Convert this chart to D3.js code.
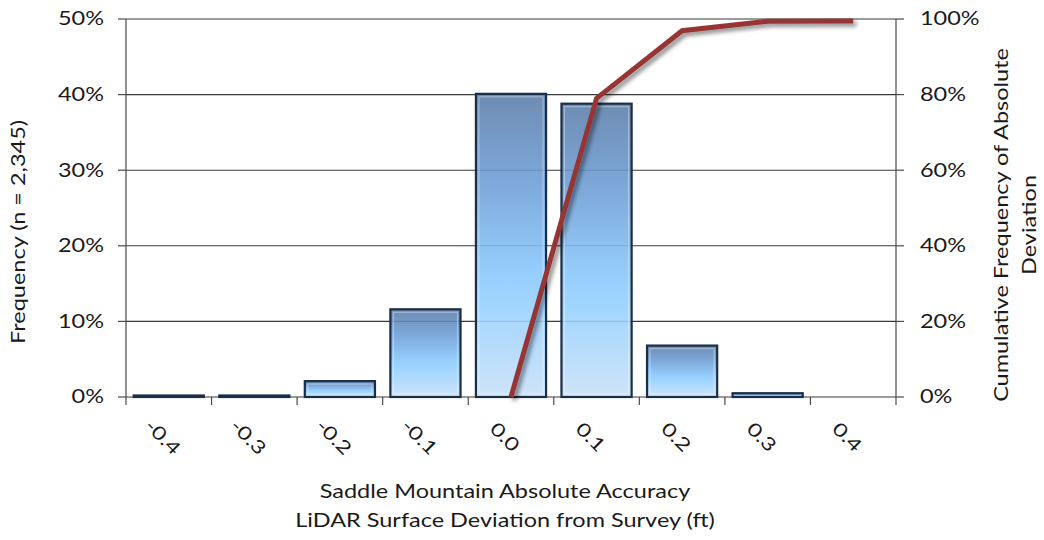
<!DOCTYPE html>
<html>
<head>
<meta charset="utf-8">
<script src="https://cdn.jsdelivr.net/npm/d3@7"></script>
<style>
  html, body { margin: 0; padding: 0; background: #fff; }
  svg { display: block; font-family: Lato, "Open Sans", sans-serif; }
</style>
</head>
<body>
<svg id="chart" width="1044" height="540"></svg>
<script>
// Deviation bins (ft) and share of survey points in each bin (%)
const categories = ["-0.4", "-0.3", "-0.2", "-0.1", "0.0", "0.1", "0.2", "0.3", "0.4"];
const frequency = [0.2, 0.2, 2.1, 11.6, 40.1, 38.8, 6.8, 0.5, 0];

// Cumulative frequency of absolute deviation (%)
const cumulativeCategories = ["0.0", "0.1", "0.2", "0.3", "0.4"];
const cumulative = [0, 79, 96.9, 99.4, 99.5];

// Axis tick values (%)
const leftTicks = [0, 10, 20, 30, 40, 50];
const rightTicks = [0, 20, 40, 60, 80, 100];

const svg = d3.select("#chart");
const plot = { left: 126, right: 896, top: 19, bottom: 397 };

const x = d3.scaleBand().domain(categories).range([plot.left, plot.right]).paddingInner(0.18).paddingOuter(0.09);
const yLeft = d3.scaleLinear().domain([0, 50]).range([plot.bottom, plot.top]);
const yRight = d3.scaleLinear().domain([0, 100]).range([plot.bottom, plot.top]);

const defs = svg.append("defs");
const grad = defs.append("linearGradient").attr("id", "barFill")
  .attr("x1", 0).attr("y1", 0).attr("x2", 0).attr("y2", 1);
[["0%", "#5a7ca8"], ["30%", "#6c9ed6"], ["58%", "#86c6fb"], ["68%", "#93cffe"], ["100%", "#c8e0f8"]]
  .forEach(([o, c]) => grad.append("stop").attr("offset", o).attr("stop-color", c));

const shadow = defs.append("filter").attr("id", "lineShadow")
  .attr("x", "-20%").attr("y", "-20%").attr("width", "140%").attr("height", "140%");
shadow.append("feDropShadow").attr("dx", 3).attr("dy", 3).attr("stdDeviation", 2)
  .attr("flood-color", "#000").attr("flood-opacity", 0.45);

// Horizontal gridlines
svg.append("g").selectAll("line").data(leftTicks).join("line")
  .attr("x1", plot.left).attr("x2", plot.right)
  .attr("y1", d => yLeft(d)).attr("y2", d => yLeft(d))
  .attr("stroke", "#3a3a3a").attr("stroke-width", 1.1);

// Frequency bars
const bars = svg.append("g");
bars.selectAll("rect.bar").data(frequency).join("rect")
  .attr("class", "bar")
  .attr("x", (d, i) => x(categories[i]))
  .attr("width", x.bandwidth())
  .attr("y", d => yLeft(d))
  .attr("height", d => plot.bottom - yLeft(d))
  .attr("fill", "url(#barFill)")
  .attr("fill-opacity", 0.88)
  .attr("stroke", "#1b2e47").attr("stroke-width", 2.2)
  .attr("visibility", d => d > 0 ? "visible" : "hidden");
// inner highlight edge on the taller bars
bars.selectAll("rect.edge").data(frequency.map((d, i) => ({ d, i })).filter(o => o.d > 1)).join("rect")
  .attr("class", "edge")
  .attr("x", o => x(categories[o.i]) + 3)
  .attr("width", x.bandwidth() - 6)
  .attr("y", o => yLeft(o.d) + 3)
  .attr("height", o => plot.bottom - yLeft(o.d) - 6)
  .attr("fill", "none")
  .attr("stroke", "#ffffff").attr("stroke-opacity", 0.35).attr("stroke-width", 1.2);

// Axis lines and tick marks
const axisColor = "#4a4a4a";
const axes = svg.append("g").attr("stroke", axisColor).attr("stroke-width", 1.2);
axes.append("line").attr("x1", plot.left).attr("x2", plot.left).attr("y1", plot.top).attr("y2", plot.bottom + 8);
axes.append("line").attr("x1", plot.right).attr("x2", plot.right).attr("y1", plot.top).attr("y2", plot.bottom + 8);
axes.selectAll("line.lt").data(leftTicks).join("line").attr("class", "lt")
  .attr("x1", plot.left - 8).attr("x2", plot.left).attr("y1", d => yLeft(d)).attr("y2", d => yLeft(d));
axes.selectAll("line.rt").data(rightTicks).join("line").attr("class", "rt")
  .attr("x1", plot.right).attr("x2", plot.right + 8).attr("y1", d => yRight(d)).attr("y2", d => yRight(d));
const bandEdges = categories.map(c => x(c) - x.step() * x.paddingInner() / 2);
axes.selectAll("line.xt").data(bandEdges.slice(1)).join("line").attr("class", "xt")
  .attr("x1", d => d).attr("x2", d => d).attr("y1", plot.bottom).attr("y2", plot.bottom + 8);

// Cumulative line
const line = d3.line()
  .x((d, i) => x(cumulativeCategories[i]) + x.bandwidth() / 2)
  .y(d => yRight(d));
svg.append("path").datum(cumulative)
  .attr("d", line)
  .attr("fill", "none")
  .attr("stroke", "#963634").attr("stroke-width", 5)
  .attr("stroke-linejoin", "miter")
  .attr("filter", "url(#lineShadow)");

// Text: a wide humanist face, drawn stretched along the reading direction
const textColor = "#1a1a1a";
const fs = 18.5;
const stretch = 1.27;
function label(g, tx, ty, rot, anchor, str) {
  return g.append("text")
    .attr("transform", `translate(${tx},${ty}) rotate(${rot}) scale(${stretch},1)`)
    .attr("text-anchor", anchor).attr("dy", "0.35em")
    .attr("font-size", fs).attr("fill", textColor)
    .text(str);
}

const tickText = svg.append("g");
leftTicks.forEach(d => label(tickText, 104, yLeft(d), 0, "end", d + "%"));
rightTicks.forEach(d => label(tickText, 920, yRight(d), 0, "start", d + "%"));
categories.forEach(c => label(tickText, x(c) + x.bandwidth() / 2 - 6, 437, 45, "middle", c));

// Axis titles
const titles = svg.append("g");
label(titles, 505, 492, 0, "middle", "Saddle Mountain Absolute Accuracy");
label(titles, 505, 521, 0, "middle", "LiDAR Surface Deviation from Survey (ft)");
label(titles, 19, 232, -90, "middle", "Frequency (n = 2,345)");
label(titles, 1002, 225, -90, "middle", "Cumulative Frequency of Absolute");
label(titles, 1030, 225, -90, "middle", "Deviation");
</script>
</body>
</html>
